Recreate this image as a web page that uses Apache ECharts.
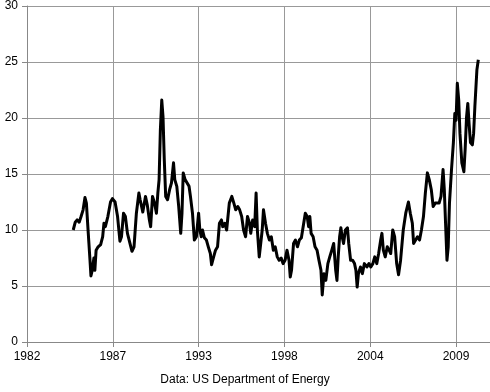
<!DOCTYPE html>
<html>
<head>
<meta charset="utf-8">
<script src="https://cdn.jsdelivr.net/npm/echarts@6/dist/echarts.min.js"></script>
<style>html,body{margin:0;padding:0;background:#fff}#c{width:490px;height:392px}</style>
</head>
<body>
<div id="c"></div>
<script>
// Tick labels of the date axis (major unit 2000 days, starting mid-1982)
const TICK_LABELS = ['1982', '1987', '1993', '1998', '2004', '2009'];
const AXIS_START = 1982.5;
const TICK_STEP = 2000 / 365.25;
const Y_TICKS = [0, 5, 10, 15, 20, 25, 30];
const SOURCE = 'Data: US Department of Energy';

// Dates as fractional years
const YEARS = [
1985.45,1985.58,1985.70,1985.83,1985.95,1986.08,1986.20,1986.29,1986.41,1986.52,
1986.58,1986.66,1986.77,1986.83,1986.91,1987.04,1987.20,1987.33,1987.41,1987.50,
1987.66,1987.83,1987.95,1988.12,1988.28,1988.43,1988.53,1988.66,1988.78,1988.91,
1989.03,1989.20,1989.33,1989.39,1989.48,1989.64,1989.72,1989.89,1990.06,1990.18,
1990.31,1990.39,1990.51,1990.64,1990.76,1990.85,1990.93,1991.01,1991.10,1991.18,
1991.26,1991.35,1991.47,1991.60,1991.72,1991.85,1991.93,1992.06,1992.18,1992.31,
1992.39,1992.47,1992.59,1992.72,1992.84,1992.93,1993.06,1993.18,1993.31,1993.45,
1993.53,1993.62,1993.70,1993.82,1993.95,1994.07,1994.20,1994.28,1994.41,1994.53,
1994.66,1994.78,1994.91,1994.99,1995.12,1995.24,1995.41,1995.57,1995.70,1995.82,
1995.95,1996.07,1996.20,1996.32,1996.45,1996.57,1996.70,1996.78,1996.90,1997.03,
1997.12,1997.20,1997.32,1997.42,1997.51,1997.59,1997.72,1997.84,1997.97,1998.09,
1998.22,1998.34,1998.47,1998.59,1998.72,1998.84,1998.97,1999.09,1999.22,1999.30,
1999.38,1999.51,1999.63,1999.76,1999.88,2000.01,2000.13,2000.26,2000.38,2000.47,
2000.55,2000.63,2000.76,2000.88,2001.01,2001.13,2001.26,2001.34,2001.45,2001.57,
2001.70,2001.82,2001.95,2002.07,2002.20,2002.28,2002.36,2002.45,2002.53,2002.61,
2002.70,2002.82,2002.95,2003.03,2003.15,2003.28,2003.40,2003.49,2003.57,2003.65,
2003.78,2003.90,2004.03,2004.19,2004.32,2004.44,2004.57,2004.69,2004.82,2004.94,
2005.07,2005.15,2005.24,2005.36,2005.49,2005.61,2005.71,2005.84,2005.96,2006.09,
2006.21,2006.34,2006.51,2006.67,2006.84,2006.96,2007.09,2007.17,2007.30,2007.42,
2007.55,2007.67,2007.80,2007.92,2008.05,2008.17,2008.30,2008.42,2008.55,2008.67,
2008.80,2008.92,2009.05,2009.13,2009.21,2009.30,2009.38,2009.46,2009.59,2009.71,
2009.80,2009.88,2009.96,2010.05,2010.13,2010.25,2010.38,2010.46,2010.55,2010.63,
2010.71,2010.80,2010.92,2011.00,2011.08,2011.21,2011.30
];

const VALUES = [
10.0,10.7,10.9,10.7,11.2,11.8,12.9,12.4,9.7,7.3,
5.9,6.4,7.5,6.4,8.2,8.5,8.7,9.4,10.6,10.3,
11.2,12.5,12.8,12.5,11.2,9.0,9.4,11.5,11.2,9.7,
9.8,8.1,8.5,9.7,11.5,13.3,12.7,11.6,13.0,12.2,
10.9,10.3,13.0,12.4,11.5,13.3,14.5,18.9,21.6,20.1,
16.3,13.0,12.7,13.6,14.2,16.0,14.5,13.9,12.1,9.7,
11.5,15.1,14.5,14.2,13.9,13.0,11.5,9.1,9.4,11.5,
10.0,9.4,10.0,9.3,9.1,8.5,7.9,6.9,7.6,8.2,
8.5,10.6,10.9,10.3,10.6,10.0,12.4,13.0,12.4,11.8,
12.1,11.8,11.2,10.0,9.4,11.2,10.6,9.7,10.9,10.3,
13.3,10.0,7.6,7.6,10.0,11.8,10.6,9.7,9.1,9.4,
8.2,8.5,7.6,7.3,7.5,7.0,7.3,8.2,7.3,5.8,
6.4,8.8,9.1,8.5,9.1,9.3,9.4,11.5,11.2,10.3,
11.2,9.7,9.4,8.5,8.2,7.3,6.4,4.2,6.1,5.5,
7.0,7.6,8.2,8.8,6.4,5.5,7.6,9.4,10.2,9.4,
8.8,10.0,10.2,8.8,7.3,7.3,7.0,6.4,4.9,6.1,
6.7,6.1,7.0,6.7,7.0,6.7,7.0,7.6,7.0,7.9,
9.1,9.7,8.2,7.6,8.5,8.2,7.9,10.0,9.4,7.0,
6.0,7.3,10.0,11.5,12.5,11.5,10.6,8.8,9.1,9.4,
9.1,10.0,11.2,13.3,15.1,14.5,13.6,12.1,12.4,12.5,
12.4,13.0,15.4,13.6,10.6,7.3,8.5,12.4,15.4,17.8,
20.4,19.8,23.1,21.6,18.6,16.0,15.2,17.2,20.1,21.3,
19.5,17.8,17.6,18.6,21.0,24.3,25.2
];

const FONT = '"Liberation Sans", Arial, sans-serif';
const GRID_LEFT = 27, GRID_RIGHT = -10;
const PX_PER_YEAR = 87.66 / TICK_STEP;
const X_MAX = (490 - GRID_LEFT - GRID_RIGHT) / PX_PER_YEAR;

const chart = echarts.init(document.getElementById('c'), null, {renderer: 'canvas'});
chart.setOption({
  animation: false,
  backgroundColor: '#ffffff',
  title: {
    text: SOURCE, left: 'center', top: 369,
    textStyle: {fontSize: 12, fontWeight: 'normal', color: '#000', fontFamily: FONT}
  },
  grid: {left: GRID_LEFT, right: GRID_RIGHT, top: 6, bottom: 50, containLabel: false},
  xAxis: {
    type: 'value', min: 0, max: X_MAX, interval: TICK_STEP,
    axisLine: {show: true, lineStyle: {color: '#888', width: 1}},
    axisTick: {show: true, length: 5, lineStyle: {color: '#888'}},
    splitLine: {show: true, lineStyle: {color: '#999', width: 1}},
    axisLabel: {
      margin: 9, fontSize: 12, color: '#000', fontFamily: FONT,
      showMaxLabel: false,
      formatter: v => {
        const k = v / TICK_STEP, r = Math.round(k);
        return Math.abs(k - r) < 0.01 && TICK_LABELS[r] ? TICK_LABELS[r] : '';
      }
    }
  },
  yAxis: {
    type: 'value', min: Y_TICKS[0], max: Y_TICKS[Y_TICKS.length - 1], interval: Y_TICKS[1] - Y_TICKS[0],
    axisLine: {show: true, lineStyle: {color: '#888', width: 1}},
    axisTick: {show: true, length: 5, lineStyle: {color: '#888'}},
    splitLine: {show: true, lineStyle: {color: '#999', width: 1}},
    axisLabel: {margin: 9, fontSize: 12, color: '#000', fontFamily: FONT}
  },
  series: [{
    type: 'line',
    data: YEARS.map((y, i) => [y - AXIS_START, VALUES[i]]),
    showSymbol: false, symbol: 'none',
    lineStyle: {color: '#000', width: 3, join: 'round'},
    smooth: false
  }]
});
</script>
</body>
</html>
